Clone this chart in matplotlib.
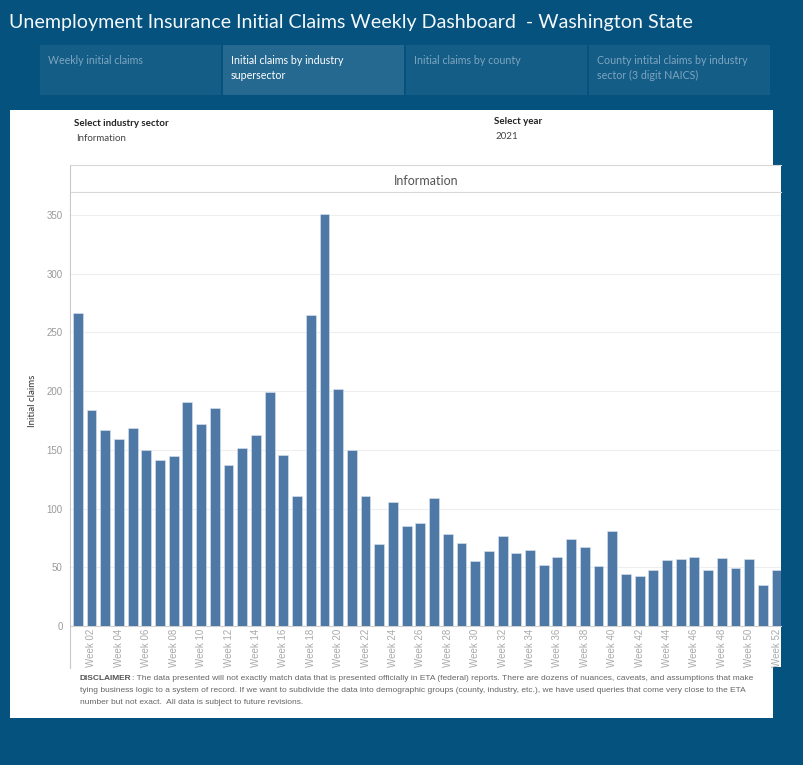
import matplotlib
matplotlib.use("Agg")
import matplotlib.pyplot as plt
from matplotlib.patches import Rectangle

W, H = 804, 765

# data (Information sector, 2021)
weeks = [f"Week {i:02d}" for i in range(1, 53)]
claims = [267, 184, 167, 159, 169, 150, 141, 145, 191, 172,
          186, 137, 152, 163, 199, 146, 111, 265, 351, 202,
          150, 111, 70, 106, 85, 88, 109, 78, 71, 55,
          64, 77, 62, 65, 52, 59, 74, 67, 51, 81,
          44, 43, 48, 56, 57, 59, 48, 58, 49, 57, 35, 48]
y_ticks = [0, 50, 100, 150, 200, 250, 300, 350]
tabs = ["Weekly initial claims",
        "Initial claims by industry\nsupersector",
        "Initial claims by county",
        "County intital claims by industry\nsector (3 digit NAICS)"]
ACTIVE_TAB = 1

BG = "#04527d"
TAB = "#145d86"
TAB_ACTIVE = "#256990"
BAR = "#4e79a7"
UI_FONT = ["Lato", "DejaVu Sans"]
DATA_FONT = ["Liberation Sans", "DejaVu Sans"]

DISCLAIMER = [
    "The data presented will not exactly match data that is presented officially in ETA (federal) reports. "
    "There are dozens of nuances, caveats, and assumptions that make",
    "tying business logic to a system of record. If we want to subdivide the data into demographic groups "
    "(county, industry, etc.), we have used queries that come very close to the ETA",
    "number but not exact.  All data is subject to future revisions.",
]

fig = plt.figure(figsize=(W / 100, H / 100), dpi=100)
fig.patch.set_facecolor(BG)

# overlay in pixel coordinates for the dashboard chrome
ui = fig.add_axes([0, 0, 1, 1])
ui.set_xlim(0, W)
ui.set_ylim(H, 0)
ui.axis("off")

ui.text(9, 22, "Unemployment Insurance Initial Claims Weekly Dashboard  - Washington State",
        color="#f4f8fb", fontsize=14.1, family=UI_FONT, va="center", ha="left")

for i, label in enumerate(tabs):
    x0 = 40 + i * 183
    ui.add_patch(Rectangle((x0, 45), 181, 50, facecolor=TAB_ACTIVE if i == ACTIVE_TAB else TAB,
                           edgecolor="none"))
    ui.text(x0 + 8, 55, label, color="white" if i == ACTIVE_TAB else "#7ea5c0",
            fontsize=7.7, family=UI_FONT, va="top", ha="left", linespacing=1.45)

# white panel + chart pane
ui.add_patch(Rectangle((10, 110), 763, 608, facecolor="white", edgecolor="none"))
ui.add_patch(Rectangle((70, 165), 711, 502, facecolor="white", edgecolor="none"))
ui.plot([70.5, 70.5], [165, 668], color="#c8c8c8", lw=0.8)
ui.plot([70.5, 781], [165, 165], color="#d8d8d8", lw=0.8)
ui.plot([71, 781], [192, 192], color="#d8d8d8", lw=0.8)
ui.text(426, 181, "Information", color="#555555", fontsize=9, family=UI_FONT,
        ha="center", va="center")

ui.text(74, 123, "Select industry sector", color="#222222", fontsize=7, fontweight="bold",
        family=UI_FONT, va="center")
ui.text(76, 138, "Information", color="#444444", fontsize=7, family=UI_FONT, va="center")
ui.text(494, 121, "Select year", color="#222222", fontsize=7, fontweight="bold",
        family=UI_FONT, va="center")
ui.text(496, 136, "2021", color="#444444", fontsize=7, family=UI_FONT, va="center")

DFS = 6.05
bold = ui.text(80, 679, "DISCLAIMER", color="#555555", fontsize=DFS, fontweight="bold",
               family=DATA_FONT, va="center")
ui.annotate(": " + DISCLAIMER[0], xy=(1, 0.5), xycoords=bold, color="#666666", fontsize=DFS,
            family=DATA_FONT, va="center", ha="left")
ui.text(80, 690.5, DISCLAIMER[1], color="#666666", fontsize=DFS, family=DATA_FONT, va="center")
ui.text(80, 702, DISCLAIMER[2], color="#666666", fontsize=DFS, family=DATA_FONT, va="center")

# bar chart
left, right, top, base = 71, 781, 193, 626
ax = fig.add_axes([left / W, 1 - base / H, (right - left) / W, (base - top) / H])
x = list(range(1, len(claims) + 1))
ax.bar(x, claims, width=0.72, color=BAR, edgecolor="#dfe6ee", linewidth=0.4, zorder=3)
ax.set_xlim(0.504, 52.32)
ax.set_ylim(0, (base - top) / 1.174)
ax.set_yticks(y_ticks)
ax.set_yticklabels([str(v) for v in y_ticks], color="#999999", fontsize=7, family=DATA_FONT)
ax.set_xticks(x[1::2])
ax.set_xticklabels(weeks[1::2], rotation=90, color="#aaaaaa", fontsize=7, family=DATA_FONT)
ax.tick_params(axis="both", length=0)
ax.tick_params(axis="y", pad=6)
ax.tick_params(axis="x", pad=2)
ax.grid(axis="y", color="#eeeeee", linewidth=0.8, zorder=0)
for side in ["top", "right", "left"]:
    ax.spines[side].set_visible(False)
ax.spines["bottom"].set_color("#d0d0d0")
ax.spines["bottom"].set_linewidth(0.8)
ax.set_ylabel("Initial claims", color="#333333", fontsize=7, family=UI_FONT)
ax.yaxis.set_label_coords((37 - left) / (right - left), 0.52)
ax.set_facecolor("white")

fig.savefig("out.png", dpi=100, facecolor=fig.get_facecolor())
